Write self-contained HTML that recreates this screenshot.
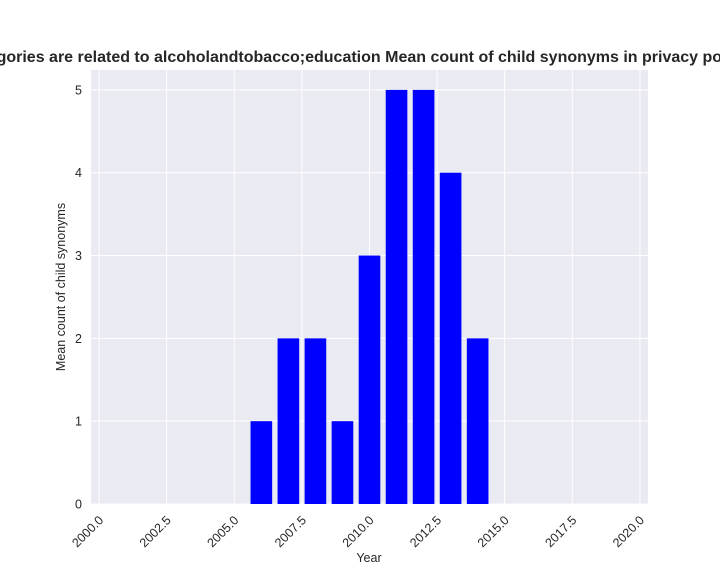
<!DOCTYPE html>
<html><head><meta charset="utf-8"><style>
body{margin:0;background:#fff;font-family:"Liberation Sans",sans-serif;}
svg text{font-family:"Liberation Sans",sans-serif;fill:#262626;}
</style></head><body>
<svg width="720" height="576" xmlns="http://www.w3.org/2000/svg">
<g id="root"></g>
</svg>
<script>
const years=[2006,2007,2008,2009,2010,2011,2012,2013,2014];
const values=[1,2,2,1,3,5,5,4,2];
const xTicks=[2000,2002.5,2005,2007.5,2010,2012.5,2015,2017.5,2020];
const yTicks=[0,1,2,3,4,5];
const L=91,R=648,T=70,B=504;
const x0=1999.7,x1=2020.3;
const yMax=5.24;
function sx(v){return L+(v-x0)/(x1-x0)*(R-L);}
function sy(v){return B-v/yMax*(B-T);}
const NS="http://www.w3.org/2000/svg";
const root=document.getElementById('root');
function mk(t,a,p){const e=document.createElementNS(NS,t);for(const k in a)e.setAttribute(k,a[k]);(p||root).appendChild(e);return e;}
const bg=mk('rect',{x:L,y:T,width:R-L,height:B-T,fill:'#eaeaf2'});


xTicks.forEach(t=>{
 const g=mk('line',{x1:sx(t),x2:sx(t),y1:T,y2:B,stroke:'#fff','stroke-width':1});
 
 
 const X=sx(t)+5,Y=B+17;
 const tx=mk('text',{x:X,y:Y,'font-size':12.5,'text-anchor':'end',transform:`rotate(-45 ${X} ${Y})`});
 tx.textContent=t.toFixed(1);
 
 
});
yTicks.forEach(t=>{
 const g=mk('line',{x1:L,x2:R,y1:sy(t),y2:sy(t),stroke:'#fff','stroke-width':1});
 
 
 const tx=mk('text',{x:L-9,y:sy(t)+4.5,'font-size':12.5,'text-anchor':'end'});
 tx.textContent=t;
 
 
});
years.forEach((yr,i)=>{
 const w=sx(yr+0.4)-sx(yr-0.4);
 const b=mk('rect',{x:sx(yr-0.4),y:sy(values[i]),width:w,height:B-sy(values[i]),fill:'#0000ff'});
 
 
});
const t=mk('text',{x:362,y:62,'font-size':16,'font-weight':'bold','text-anchor':'middle'});
t.textContent='Categories are related to alcoholandtobacco;education Mean count of child synonyms in privacy policies';


const xl=mk('text',{x:369,y:562,'font-size':12.5,'text-anchor':'middle'});
xl.textContent='Year';


const yl=mk('text',{x:65,y:287,'font-size':12.5,'text-anchor':'middle',transform:'rotate(-90 65 287)'});
yl.textContent='Mean count of child synonyms';


</script>
</body></html>
